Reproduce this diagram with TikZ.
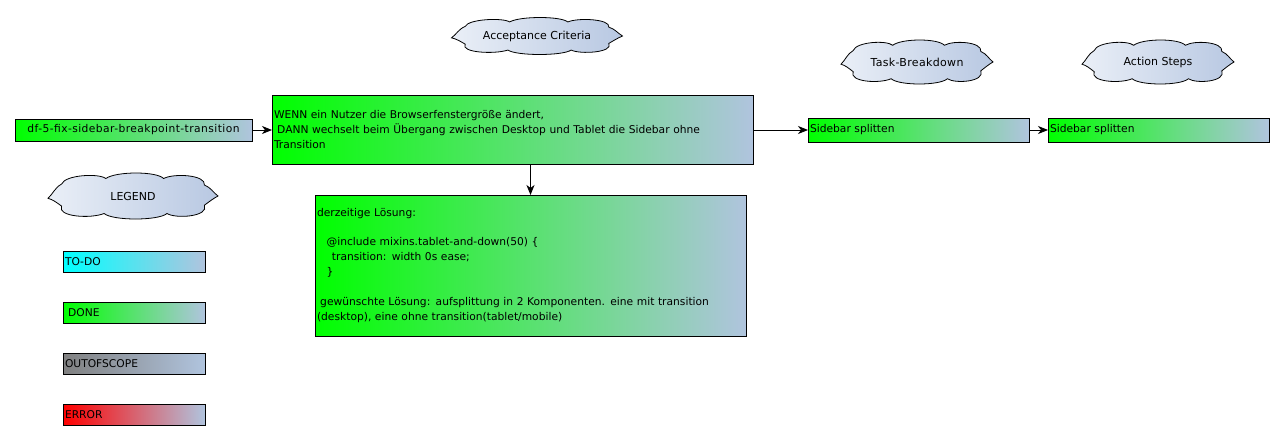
\documentclass[tikz,border=0pt]{standalone}
\usepackage{fontspec}
\setmainfont{DejaVu Sans}
\usetikzlibrary{arrows.meta,calc}
\definecolor{lsb}{RGB}{176,196,222}
\definecolor{cloudl}{RGB}{234,239,247}
\definecolor{cloudr}{RGB}{184,200,226}
\definecolor{dgreen}{RGB}{0,255,0}
\definecolor{dcyan}{RGB}{0,255,255}
\definecolor{dgray}{RGB}{128,128,128}
\definecolor{dred}{RGB}{255,0,0}
\tikzset{
  box/.style={draw=black, line width=0.85pt, anchor=north west, inner sep=2pt, outer sep=0pt,
    align=left, font=\fontsize{10.7}{15}\selectfont, right color=lsb},
  donebox/.style={box, left color=dgreen, right color=lsb},
  todobox/.style={box, left color=dcyan, right color=lsb},
  oosbox/.style={box, left color=dgray, right color=lsb},
  errbox/.style={box, left color=dred, right color=lsb},
  cloudtext/.style={inner sep=0pt, font=\fontsize{11}{13}\selectfont},
  cloudline/.style={draw=black, line width=0.8pt, left color=cloudl, right color=cloudr},
  arr/.style={draw=black, line width=0.9pt, -{Stealth[length=10pt,width=8pt,inset=3pt]}},
}
\newcommand\mycloud[3]{%
  \begin{scope}[shift={(#1)}, xscale=#2, yscale=#3]
    \path[cloudline] (-0.42,-0.26)
      .. controls (-0.40,-0.46) and (-0.20,-0.50) .. (-0.16,-0.38)
      .. controls (-0.10,-0.54) and (0.14,-0.54) .. (0.18,-0.38)
      .. controls (0.24,-0.50) and (0.43,-0.46) .. (0.42,-0.24)
      .. controls (0.46,-0.18) and (0.47,-0.08) .. (0.50,0.00)
      .. controls (0.47,0.06) and (0.45,0.12) .. (0.42,0.20)
      .. controls (0.45,0.45) and (0.25,0.50) .. (0.20,0.38)
      .. controls (0.15,0.54) and (-0.12,0.54) .. (-0.17,0.38)
      .. controls (-0.25,0.50) and (-0.45,0.45) .. (-0.42,0.22)
      .. controls (-0.45,0.14) and (-0.47,0.08) .. (-0.50,0.05)
      .. controls (-0.47,-0.05) and (-0.46,-0.18) .. (-0.42,-0.26) -- cycle;
  \end{scope}}
\begin{document}
\begin{tikzpicture}[x=1pt,y=-1pt]
\useasboundingbox (0,0) rectangle (1284,440);

% clouds
\coordinate (accC) at (537,36);
\mycloud{accC}{171}{37}
\node[cloudtext] (acc) at (accC) {Acceptance Criteria};
\coordinate (tbC) at (917,62);
\mycloud{tbC}{152}{44}
\node[cloudtext] (tb) at (tbC) {\addfontfeature{LetterSpace=3}Task-Breakdown};
\coordinate (asC) at (1158,62);
\mycloud{asC}{152}{44}
\node[cloudtext] (as) at (asC) {Action Steps};
\coordinate (lgC) at (133,196);
\mycloud{lgC}{170}{46}
\node[cloudtext] (lg) at (lgC) {LEGEND};

% main flow
\node[donebox, align=center, minimum width=237pt, minimum height=22pt, text width=233pt] (src) at (15,119)
  {\addfontfeature{LetterSpace=4}df-5-fix-sidebar-breakpoint-transition};
\node[donebox, minimum width=481pt, minimum height=69pt, text width=477pt] (main) at (272,95)
  {WENN ein Nutzer die Browserfenstergröße ändert,\\
   \hspace*{0.3em}DANN wechselt beim Übergang zwischen Desktop und Tablet die Sidebar ohne\\
   Transition};
\node[donebox, minimum width=221pt, minimum height=24pt, text width=217pt] (sb1) at (808,118) {Sidebar splitten};
\node[donebox, minimum width=221pt, minimum height=24pt, text width=217pt] (sb2) at (1048,118) {Sidebar splitten};
\node[donebox, minimum width=431pt, minimum height=141pt, text width=427pt] (sol) at (315,195)
  {derzeitige Lösung:\\[14.5pt]
   \hspace*{0.9em}@include mixins.tablet-and-down(50) \{\\
   \hspace*{1.4em}transition: width 0s ease;\\
   \hspace*{0.9em}\}\\[14.5pt]
   \hspace*{0.3em}gewünschte Lösung: aufsplittung in 2 Komponenten. eine mit transition\\
   (desktop), eine ohne transition(tablet/mobile)};

\draw[arr] (src.east) -- (src.east -| main.west);
\draw[arr] (main.east |- sb1.west) -- (sb1.west);
\draw[arr] (sb1.east) -- (sb2.west);
\draw[arr] (sol.north |- main.south) -- (sol.north);

% legend
\node[todobox, minimum width=142pt, minimum height=21pt, text width=138pt] (todo) at (63,251) {TO-DO};
\node[donebox, minimum width=142pt, minimum height=21pt, text width=138pt] (done) at (63,302) {\hspace*{0.3em}DONE};
\node[oosbox, minimum width=142pt, minimum height=21pt, text width=138pt] (oos) at (63,353) {OUTOFSCOPE};
\node[errbox, minimum width=142pt, minimum height=21pt, text width=138pt] (err) at (63,404) {ERROR};
\end{tikzpicture}
\end{document}
